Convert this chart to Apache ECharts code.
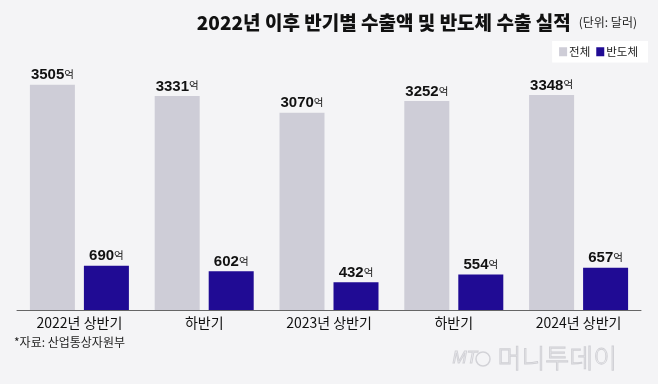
<!DOCTYPE html>
<html><head><meta charset="utf-8">
<script src="https://cdn.jsdelivr.net/npm/echarts@6/dist/echarts.min.js"></script>
<style>html,body{margin:0;padding:0;background:#f4f4f6;}#c{width:658px;height:384px;}</style>
</head><body><div id="c"></div>
<script>
const categories = ['2022년 상반기', '하반기', '2023년 상반기', '하반기', '2024년 상반기'];
const totalExports = [3505, 3331, 3070, 3252, 3348];
const semiExports = [690, 602, 432, 554, 657];
const seriesNames = ['전체', '반도체'];
const titleText = '2022년 이후 반기별 수출액 및 반도체 수출 실적';
const unitText = '(단위: 달러)';
const sourceText = '*자료: 산업통상자원부';

const KR = '"Noto Sans CJK KR", "Noto Sans", sans-serif';
const NUM = '"Liberation Sans Narrow", "Liberation Sans", Arial, sans-serif';

const labelCfg = {
  show: true, position: 'top', distance: 2,
  formatter: p => '{n|' + p.value + '}{u|억}',
  rich: {
    n: { fontFamily: NUM, fontWeight: 'bold', fontSize: 15, color: '#111', letterSpacing: -1 },
    u: { fontFamily: KR, fontSize: 10.5, color: '#111', padding: [0,0,2,0] }
  }
};

const chart = echarts.init(document.getElementById('c'), null, { renderer: 'canvas' });
chart.setOption({
  backgroundColor: '#f4f4f6',
  animation: false,
  title: {
    text: '{a|' + titleText + '}{b|' + unitText + '}',
    right: 16, top: 8,
    textStyle: {
      fontWeight: 'normal',
      rich: {
        a: { fontFamily: KR, fontWeight: 900, fontSize: 19, color: '#111', letterSpacing: -0.5 },
        b: { fontFamily: KR, fontWeight: 'normal', fontSize: 12, color: '#222', padding: [0, 0, 0, 8] }
      }
    }
  },
  legend: {
    data: seriesNames,
    right: 10, top: 41,
    backgroundColor: '#ffffff',
    padding: [5, 10, 5, 7],
    itemWidth: 8, itemHeight: 9, itemGap: 6,
    icon: 'rect',
    textStyle: { fontFamily: KR, fontSize: 11.5, color: '#222', padding: [0, 0, 0, -3] }
  },
  grid: { left: 17, right: 17, top: 53, bottom: 74 },
  xAxis: {
    type: 'category', data: categories,
    axisLine: { lineStyle: { color: '#666', width: 1 } },
    axisTick: { inside: true, length: 5, lineStyle: { color: '#666' } },
    axisLabel: { fontFamily: KR, fontSize: 14, color: '#111', margin: 6 }
  },
  yAxis: { type: 'value', min: 0, max: 4000, show: false, splitLine: { show: false } },
  series: [
    { name: seriesNames[0], type: 'bar', data: totalExports, barWidth: 45, barGap: '20%',
      itemStyle: { color: '#cecdd7' }, label: labelCfg },
    { name: seriesNames[1], type: 'bar', data: semiExports, barWidth: 45,
      itemStyle: { color: '#200b94' }, label: labelCfg }
  ],
  graphic: [
    { type: 'text', left: 14, top: 336,
      style: { text: sourceText, fontFamily: KR, fontSize: 12, fill: '#222' } },
    { type: 'text', left: 452, top: 349,
      style: { text: 'MT', fontFamily: 'Liberation Sans', fontStyle: 'italic', fontSize: 17,
               fill: 'rgba(255,255,255,0)', stroke: '#d2d2d7', lineWidth: 1 } },
    { type: 'circle', shape: { cx: 483, cy: 359, r: 7 },
      style: { fill: 'none', stroke: '#d2d2d7', lineWidth: 1.5 } },
    { type: 'text', left: 497, top: 345,
      style: { text: '머니투데이', fontFamily: KR, fontWeight: 300, fontSize: 26,
               fill: 'rgba(255,255,255,0)', stroke: '#d0d0d5', lineWidth: 1 } }
  ]
});
</script></body></html>
